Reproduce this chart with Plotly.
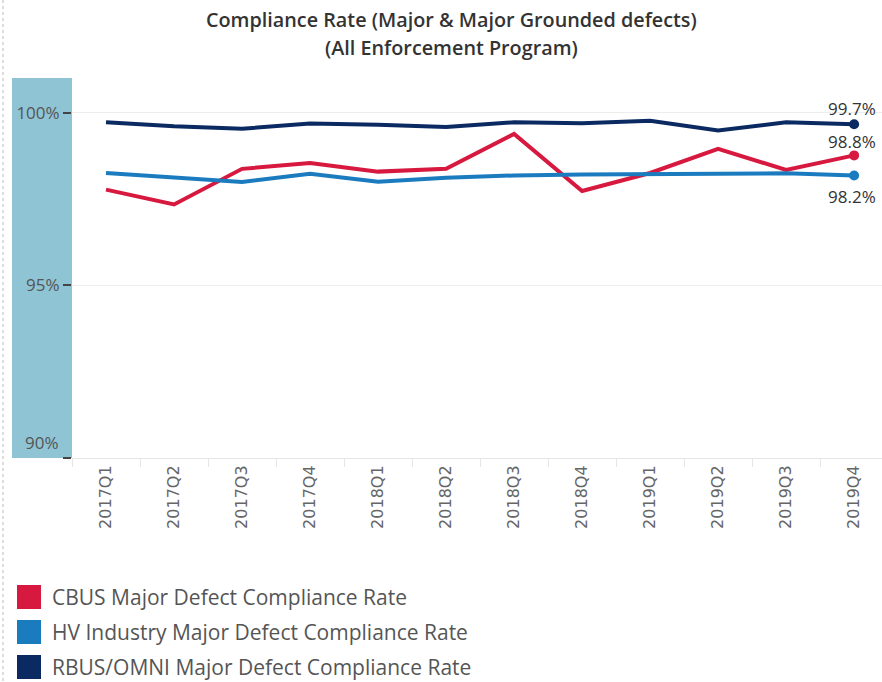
import plotly.graph_objects as go

quarters = ["2017Q1", "2017Q2", "2017Q3", "2017Q4", "2018Q1", "2018Q2",
            "2018Q3", "2018Q4", "2019Q1", "2019Q2", "2019Q3", "2019Q4"]
cbus = [97.77, 97.34, 98.37, 98.54, 98.29, 98.37, 99.38, 97.73, 98.25, 98.95, 98.34, 98.76]
hv = [98.25, 98.13, 97.99, 98.23, 98.00, 98.11, 98.18, 98.21, 98.22, 98.23, 98.24, 98.18]
rbus = [99.72, 99.60, 99.53, 99.68, 99.65, 99.58, 99.72, 99.69, 99.76, 99.48, 99.72, 99.66]
series_names = ["CBUS Major Defect Compliance Rate",
                "HV Industry Major Defect Compliance Rate",
                "RBUS/OMNI Major Defect Compliance Rate"]
title_lines = ["Compliance Rate (Major & Major Grounded defects)", "(All Enforcement Program)"]
colors = ["#D7193F", "#1B7BBF", "#0C2A62"]
ytick_vals = [90, 95, 100]
ytick_text = ["90%", "95%", "100%"]

W, H = 882, 682
L, R, T, B = 72, 0, 78, 224
pw, ph = W - L - R, H - T - B

def px_x(x):
    return (x - L) / pw

def px_y(y):
    return (H - B - y) / ph

fig = go.Figure()
for name, vals, col in zip(series_names, [cbus, hv, rbus], colors):
    fig.add_trace(go.Scatter(
        x=quarters, y=vals, mode="lines", name=name,
        line=dict(color=col, width=4), showlegend=False, hoverinfo="skip"))
    fig.add_trace(go.Scatter(
        x=[quarters[-1]], y=[vals[-1]], mode="markers",
        marker=dict(color=col, size=10),
        showlegend=False, hoverinfo="skip", cliponaxis=False))

shapes = [
    dict(type="rect", xref="paper", yref="paper", x0=px_x(12), x1=0, y0=0, y1=1,
         fillcolor="#8FC4D4", line=dict(width=0), layer="below"),
    dict(type="line", xref="paper", yref="paper", x0=px_x(3), x1=px_x(3), y0=px_y(0), y1=px_y(H),
         line=dict(color="#BBBBBB", width=1, dash="dot")),
]
annotations = [dict(xref="paper", yref="y", x=px_x(61), y=90, text=ytick_text[0], showarrow=False,
                    xanchor="right", yanchor="bottom", yshift=2,
                    font=dict(family="Open Sans", size=17, color="#555555"))]

# end-point value labels
for vals, ys in zip([cbus, hv, rbus], [14, -21, 16]):
    annotations.append(dict(x=quarters[-1], y=vals[-1], xref="x", yref="y",
                            text=f"{vals[-1]:.1f}%", showarrow=False, xshift=-2, yshift=ys,
                            xanchor="center", yanchor="middle",
                            font=dict(family="Open Sans", size=17, color="#333333")))

# title
for line, cy in zip(title_lines, [20, 47]):
    annotations.append(dict(xref="paper", yref="paper", x=px_x(451), y=px_y(cy), text=line,
                            showarrow=False, xanchor="center", yanchor="middle",
                            font=dict(family="Open Sans", size=19.8, color="#333333", weight=600)))

# legend
for i, (name, col) in enumerate(zip(series_names, colors)):
    cy = [597, 632, 667][i]
    shapes.append(dict(type="rect", xref="paper", yref="paper",
                       x0=px_x(17), x1=px_x(41), y0=px_y(cy - 12), y1=px_y(cy + 12),
                       fillcolor=col, line=dict(width=0)))
    annotations.append(dict(xref="paper", yref="paper", x=px_x(50), y=px_y(cy), text=name,
                            showarrow=False, xanchor="left", yanchor="middle",
                            font=dict(family="Open Sans", size=21, color="#555555")))

fig.update_layout(
    width=W, height=H,
    margin=dict(l=L, r=R, t=T, b=B),
    paper_bgcolor="white", plot_bgcolor="white",
    xaxis=dict(type="category", range=[-0.5, 11.41], showgrid=False,
               tickson="boundaries", ticks="outside", ticklen=8, tickcolor="#E6E6E6",
               tickangle=-90, tickfont=dict(family="DejaVu Sans", size=16, color="#666666"),
               showline=True, linecolor="#E6E6E6", linewidth=1, zeroline=False),
    yaxis=dict(range=[90, 101], tickvals=ytick_vals, ticktext=["", ytick_text[1], ytick_text[2]],
               ticks="outside", ticklen=8, tickcolor="#444444", tickwidth=1.5,
               tickfont=dict(family="Open Sans", size=17, color="#555555"),
               showgrid=True, gridcolor="#EDEDED", gridwidth=1, zeroline=False, showline=False),
    shapes=shapes, annotations=annotations,
)

fig.write_html("out.html", config={"displayModeBar": False},
               post_script="document.body.style.margin='0';document.body.style.overflow='hidden';")
